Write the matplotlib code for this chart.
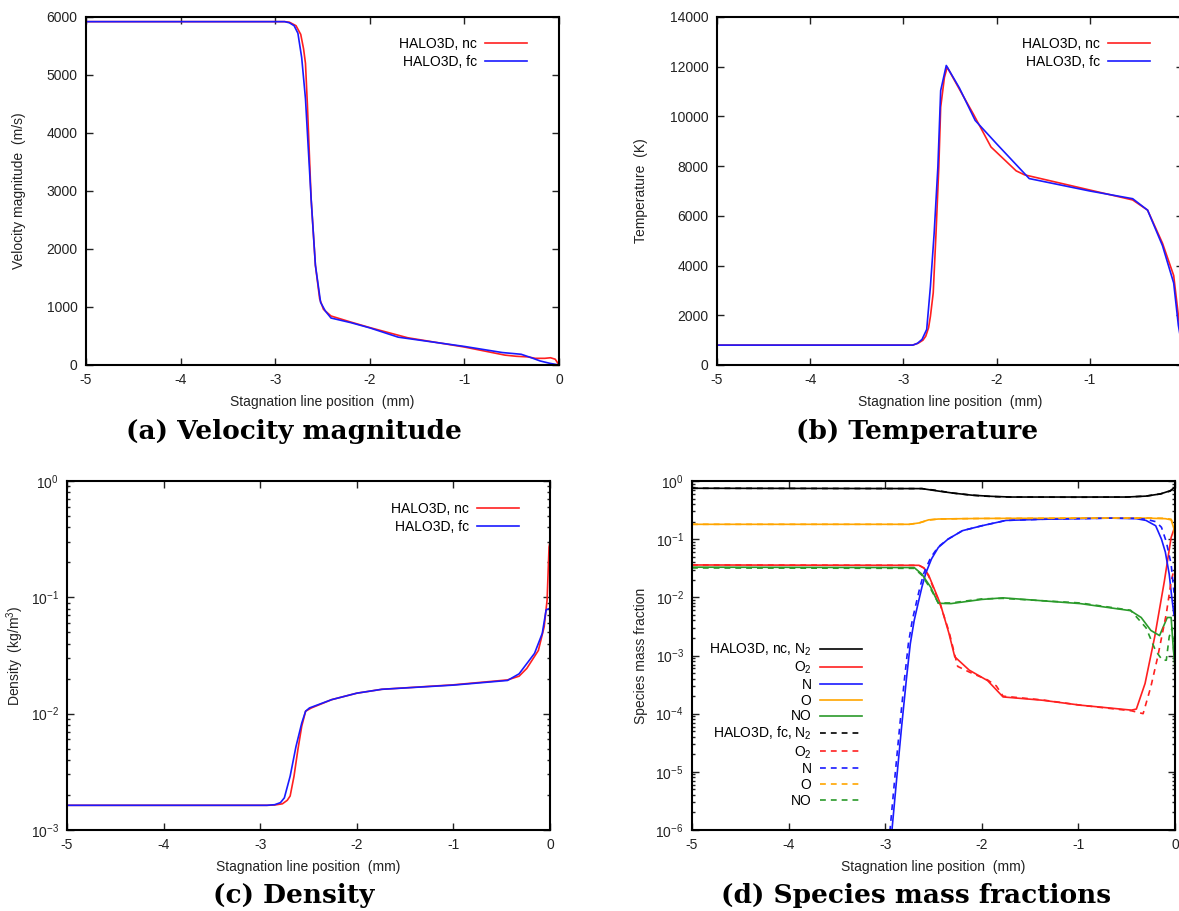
import numpy as np
import matplotlib
matplotlib.use("Agg")
import matplotlib.pyplot as plt

plt.rcParams['font.family'] = ['Liberation Sans', 'DejaVu Sans']
plt.rcParams['mathtext.fontset'] = 'custom'
plt.rcParams['mathtext.rm'] = 'Liberation Sans'
plt.rcParams['mathtext.it'] = 'Liberation Sans:italic'
plt.rcParams['font.size'] = 10

# ---- (a) velocity magnitude (m/s) ----
x_v_nc = [-5.0, -2.9, -2.85, -2.78, -2.73, -2.70, -2.68, -2.66, -2.62, -2.575, -2.53, -2.49,
          -2.41, -2.2, -2.0, -1.6, -1.0, -0.57, -0.45, -0.33, -0.25, -0.15, -0.09, -0.04, 0.0]
v_nc = [5920, 5920, 5910, 5850, 5700, 5450, 5200, 4500, 2860, 1720, 1140, 960,
        845, 740, 645, 470, 310, 170, 150, 140, 115, 115, 125, 100, 0]
x_v_fc = [-5.0, -2.9, -2.85, -2.8, -2.76, -2.72, -2.68, -2.62, -2.575, -2.52, -2.47, -2.41,
          -2.2, -2.0, -1.7, -1.0, -0.6, -0.4, -0.3, -0.2, -0.1, 0.0]
v_fc = [5920, 5920, 5900, 5850, 5720, 5300, 4590, 2860, 1720, 1080, 930, 810,
        730, 640, 480, 320, 215, 185, 130, 70, 30, 0]

# ---- (b) temperature (K) ----
x_T_nc = [-5.0, -2.9, -2.84, -2.79, -2.76, -2.73, -2.71, -2.68, -2.65, -2.62, -2.6, -2.56,
          -2.53, -2.4, -2.25, -2.06, -1.79, -1.7, -1.0, -0.54, -0.38, -0.22, -0.1, -0.05, 0.0]
T_nc = [800, 800, 880, 1000, 1160, 1500, 1960, 2900, 5300, 7970, 10370, 11570,
        11980, 11100, 10100, 8770, 7810, 7650, 7040, 6640, 6230, 4900, 3600, 2000, 500]
x_T_fc = [-5.0, -2.9, -2.85, -2.8, -2.75, -2.71, -2.67, -2.63, -2.6, -2.54, -2.4, -2.23,
          -2.0, -1.65, -1.0, -0.54, -0.38, -0.22, -0.1, -0.05, 0.0]
T_fc = [800, 800, 870, 1030, 1430, 3160, 5300, 7970, 11040, 12050, 11150, 9840,
        8900, 7500, 7000, 6690, 6230, 4800, 3300, 1600, 500]

# ---- (c) density (kg/m3) ----
x_rho_nc = [-5.0, -2.93, -2.85, -2.77, -2.72, -2.69, -2.65, -2.61, -2.57, -2.53, -2.47, -2.26,
            -2.0, -1.74, -1.0, -0.44, -0.32, -0.24, -0.12, -0.06, -0.03, -0.01, 0.0]
rho_nc = [1.63e-3, 1.63e-3, 1.64e-3, 1.68e-3, 1.8e-3, 1.96e-3, 2.9e-3, 4.9e-3, 7.8e-3, 1.05e-2,
          1.12e-2, 1.32e-2, 1.5e-2, 1.62e-2, 1.77e-2, 1.95e-2, 2.1e-2, 2.45e-2, 3.5e-2, 5.6e-2,
          9.5e-2, 0.27, 0.3]
x_rho_fc = [-5.0, -2.93, -2.85, -2.79, -2.75, -2.69, -2.63, -2.57, -2.53, -2.49, -2.26, -2.0,
            -1.74, -1.0, -0.44, -0.32, -0.16, -0.08, -0.04, -0.01, 0.0]
rho_fc = [1.63e-3, 1.63e-3, 1.65e-3, 1.72e-3, 1.89e-3, 2.9e-3, 5.2e-3, 8.3e-3, 1.05e-2, 1.12e-2,
          1.32e-2, 1.5e-2, 1.62e-2, 1.76e-2, 1.93e-2, 2.2e-2, 3.3e-2, 4.9e-2, 7.8e-2, 8e-2, 8e-2]

# ---- (d) species mass fractions ----
species = ['N$_2$', 'O$_2$', 'N', 'O', 'NO']
species_colors = ['black', '#ff2020', '#1a1aff', '#ffa500', '#2a9a2a']

x_N2_nc = [-5.0, -2.62, -2.5, -2.3, -2.1, -1.9, -1.7, -1.0, -0.5, -0.3, -0.15, -0.05, 0.0]
N2_nc = [0.75, 0.74, 0.69, 0.62, 0.57, 0.545, 0.53, 0.53, 0.53, 0.55, 0.6, 0.68, 0.78]
x_N2_fc = [-5.0, -2.62, -2.5, -2.3, -2.1, -1.9, -1.7, -1.0, -0.5, -0.3, -0.15, -0.05, 0.0]
N2_fc = [0.75, 0.74, 0.70, 0.62, 0.57, 0.54, 0.53, 0.525, 0.53, 0.55, 0.6, 0.67, 0.78]

x_O2_nc = [-5.0, -2.65, -2.6, -2.55, -2.43, -2.34, -2.28, -2.13, -1.94, -1.78, -1.37, -0.98,
           -0.45, -0.4, -0.31, -0.21, -0.11, -0.04, -0.01]
O2_nc = [3.6e-2, 3.55e-2, 3.2e-2, 2.4e-2, 7.8e-3, 2.4e-3, 9.5e-4, 5.6e-4, 3.7e-4, 1.94e-4,
         1.7e-4, 1.4e-4, 1.15e-4, 1.2e-4, 3.3e-4, 2.1e-3, 1.9e-2, 0.107, 0.15]
x_O2_fc = [-5.0, -2.65, -2.6, -2.55, -2.43, -2.34, -2.3, -2.25, -2.13, -1.94, -1.85, -1.78,
           -1.37, -0.98, -0.45, -0.33, -0.25, -0.18, -0.09, -0.04, -0.01]
O2_fc = [3.6e-2, 3.55e-2, 3.2e-2, 2.3e-2, 7.5e-3, 2.6e-3, 1.4e-3, 6.5e-4, 5.2e-4, 3.8e-4,
         3.0e-4, 2.0e-4, 1.72e-4, 1.4e-4, 1.12e-4, 1.0e-4, 2.9e-4, 9.3e-4, 5.2e-3, 1.9e-2, 3e-2]

x_N_nc = [-2.96, -2.93, -2.88, -2.83, -2.78, -2.74, -2.7, -2.66, -2.62, -2.58, -2.52, -2.45,
          -2.35, -2.2, -2.0, -1.75, -1.37, -0.67, -0.4, -0.3, -0.2, -0.14, -0.1, -0.06, -0.03, -0.01]
N_nc = [4e-7, 1e-6, 8e-6, 6e-5, 4e-4, 1.6e-3, 4e-3, 7.8e-3, 1.5e-2, 2.6e-2, 4.6e-2, 7.2e-2,
        0.1, 0.14, 0.17, 0.21, 0.22, 0.23, 0.225, 0.21, 0.17, 0.1, 0.06, 0.025, 9e-3, 5e-3]
x_N_fc = [-2.98, -2.95, -2.9, -2.85, -2.8, -2.76, -2.72, -2.68, -2.64, -2.6, -2.53, -2.45,
          -2.35, -2.2, -2.0, -1.75, -1.37, -0.67, -0.4, -0.3, -0.2, -0.14, -0.09, -0.04, -0.01]
N_fc = [4e-7, 1e-6, 8e-6, 6e-5, 4e-4, 1.6e-3, 4e-3, 7.8e-3, 1.5e-2, 2.6e-2, 4.8e-2, 7.4e-2,
        0.1, 0.14, 0.17, 0.21, 0.22, 0.23, 0.228, 0.22, 0.2, 0.16, 0.09, 0.037, 0.012]

x_O_nc = [-5.0, -2.75, -2.65, -2.55, -2.45, -2.2, -2.0, -1.0, -0.3, -0.1, -0.04, -0.01, 0.0]
O_nc = [0.18, 0.18, 0.19, 0.215, 0.222, 0.225, 0.227, 0.23, 0.23, 0.225, 0.215, 0.15, 0.1]
x_O_fc = [-5.0, -2.75, -2.65, -2.55, -2.45, -2.2, -2.0, -1.0, -0.3, -0.1, -0.04, -0.01, 0.0]
O_fc = [0.18, 0.18, 0.19, 0.213, 0.222, 0.225, 0.227, 0.23, 0.232, 0.228, 0.22, 0.17, 0.11]

x_NO_nc = [-5.0, -2.7, -2.62, -2.53, -2.45, -2.32, -2.0, -1.78, -0.98, -0.46, -0.35, -0.25,
           -0.16, -0.08, -0.04, -0.02, 0.0]
NO_nc = [3.3e-2, 3.25e-2, 2.5e-2, 1.5e-2, 7.9e-3, 7.8e-3, 9.2e-3, 9.8e-3, 7.8e-3, 5.9e-3,
         4.5e-3, 2.7e-3, 2.2e-3, 4.5e-3, 4.5e-3, 1.5e-3, 6e-4]
x_NO_fc = [-5.0, -2.7, -2.62, -2.53, -2.45, -2.32, -2.0, -1.78, -0.98, -0.46, -0.3, -0.2,
           -0.13, -0.09, -0.06, -0.03, -0.01, 0.0]
NO_fc = [3.2e-2, 3.15e-2, 2.4e-2, 1.4e-2, 8.0e-3, 8.0e-3, 9.4e-3, 9.6e-3, 8.0e-3, 6.0e-3,
         3.0e-3, 1.2e-3, 8.3e-4, 8.3e-4, 2.1e-3, 3e-3, 1.0e-3, 8e-4]

species_nc = [(x_N2_nc, N2_nc), (x_O2_nc, O2_nc), (x_N_nc, N_nc), (x_O_nc, O_nc), (x_NO_nc, NO_nc)]
species_fc = [(x_N2_fc, N2_fc), (x_O2_fc, O2_fc), (x_N_fc, N_fc), (x_O_fc, O_fc), (x_NO_fc, NO_fc)]

x_ticks = [-5, -4, -3, -2, -1, 0]
captions = ['(a) Velocity magnitude', '(b) Temperature', '(c) Density', '(d) Species mass fractions']

W, H = 1179, 911
RED = '#ff2020'
BLUE = '#1a1aff'
DASH = (0, (3.5, 3))
LEG = dict(frameon=False, markerfirst=False, handlelength=3.0, handletextpad=0.6,
           labelspacing=0.3, borderpad=0, fontsize=10)


def box(l, t, r, b):
    return [l / W, 1 - b / H, (r - l) / W, (b - t) / H]


def style_axes(ax, left, right, top, bottom, ylab_x, show_zero=True):
    ax.set_xlim(-5, 0)
    ax.set_xticks(x_ticks)
    ax.set_xticklabels([str(t) if (t != 0 or show_zero) else '' for t in x_ticks])
    ax.tick_params(which='both', direction='in', top=True, right=True, colors='#222222',
                   labelsize=10, width=1.0)
    ax.tick_params(which='major', length=5, pad=6)
    ax.tick_params(which='minor', length=2.5)
    for s in ax.spines.values():
        s.set_linewidth(1.5)
    ax.set_xlabel('Stagnation line position  (mm)', color='#222222')
    ax.xaxis.set_label_coords(0.5, -30 / (bottom - top))
    ax.yaxis.set_label_coords((ylab_x - left) / (right - left), 0.5)


fig = plt.figure(figsize=(W / 100, H / 100), dpi=100)

# (a)
ax = fig.add_axes(box(86, 17, 559, 365))
ax.plot(x_v_nc, v_nc, color=RED, lw=1.2, label='HALO3D, nc')
ax.plot(x_v_fc, v_fc, color=BLUE, lw=1.2, label='HALO3D, fc')
ax.set_ylim(0, 6000)
ax.set_yticks(range(0, 6001, 1000))
ax.set_ylabel('Velocity magnitude  (m/s)', color='#222222')
style_axes(ax, 86, 559, 17, 365, 26)
ax.legend(loc='upper right', bbox_to_anchor=(1 - 25 / 473, 1 - 13 / 348), **LEG)

# (b)
ax = fig.add_axes(box(717, 17, 1183, 365))
ax.plot(x_T_nc, T_nc, color=RED, lw=1.2, label='HALO3D, nc')
ax.plot(x_T_fc, T_fc, color=BLUE, lw=1.2, label='HALO3D, fc')
ax.set_ylim(0, 14000)
ax.set_yticks(range(0, 14001, 2000))
ax.set_ylabel('Temperature  (K)', color='#222222')
style_axes(ax, 717, 1183, 17, 365, 648, show_zero=False)
ax.legend(loc='upper right', bbox_to_anchor=(1 - 26 / 466, 1 - 13 / 348), **LEG)

# (c)
ax = fig.add_axes(box(67, 481, 550, 830))
ax.plot(x_rho_nc, rho_nc, color=RED, lw=1.2, label='HALO3D, nc')
ax.plot(x_rho_fc, rho_fc, color=BLUE, lw=1.2, label='HALO3D, fc')
ax.set_yscale('log')
ax.set_ylim(1e-3, 1)
ax.set_ylabel('Density  (kg/m$^3$)', color='#222222')
style_axes(ax, 67, 550, 481, 830, 26)
ax.legend(loc='upper right', bbox_to_anchor=(1 - 24 / 483, 1 - 14 / 349), **LEG)

# (d)
ax = fig.add_axes(box(692, 481, 1175, 830))
for name, c, (xs, ys) in zip(species, species_colors, species_nc):
    lab = 'HALO3D, nc, ' + name if name == species[0] else name
    ax.plot(xs, ys, color=c, lw=1.2, label=lab)
for name, c, (xs, ys) in zip(species, species_colors, species_fc):
    lab = 'HALO3D, fc, ' + name if name == species[0] else name
    ax.plot(xs, ys, color=c, lw=1.2, ls=DASH, label=lab)
ax.set_yscale('log')
ax.set_ylim(1e-6, 1)
ax.set_ylabel('Species mass fraction', color='#222222')
style_axes(ax, 692, 1175, 481, 830, 648)
leg_d = dict(LEG, labelspacing=0.12)
ax.legend(loc='upper left', bbox_to_anchor=((702 - 692) / 483, 1 - (635 - 481) / 349), **leg_d)

# captions
cap_pos = [(294, 431), (917, 432), (294, 896), (916, 895)]
for text, (cx, cy) in zip(captions, cap_pos):
    fig.text(cx / W, 1 - cy / H, text, ha='center', va='center', family='DejaVu Serif',
             fontweight='bold', fontsize=19)

fig.savefig('out.png', dpi=100)
